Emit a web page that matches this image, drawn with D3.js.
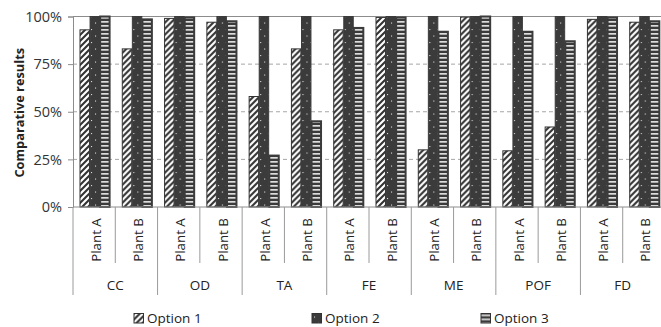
<!DOCTYPE html>
<html>
<head>
<meta charset="utf-8">
<script src="https://cdn.jsdelivr.net/npm/d3@7"></script>
<style>
  html, body { margin: 0; padding: 0; background: #fff; }
  svg { display: block; font-family: "Open Sans", "Liberation Sans", sans-serif; }
</style>
</head>
<body>
<svg id="chart" width="661" height="327"></svg>
<script>
// Categories and plants along the two-level x axis
const categories = ["CC", "OD", "TA", "FE", "ME", "POF", "FD"];
const plants = ["Plant A", "Plant B"];
const options = ["Option 1", "Option 2", "Option 3"];

// Comparative results (%) per category/plant, in order CC-A, CC-B, OD-A, ...
const option1 = [93, 83, 99, 97, 58, 83, 93, 99.5, 30, 99.7, 29.5, 42, 98.5, 97];
const option2 = [100, 100, 100, 100, 100, 100, 100, 100, 100, 100, 100, 100, 100, 100];
const option3 = [100, 98.5, 99.5, 97.5, 27, 45, 94, 99.5, 92, 100, 92, 87, 99.5, 97.5];

const yTicks = [0, 25, 50, 75, 100];

const svg = d3.select("#chart");
const plotLeft = 73, plotRight = 665, plotTop = 16.5, plotBottom = 207;

// Flatten into one row per category/plant
const rows = [];
categories.forEach((c, ci) => plants.forEach((p, pi) => {
  const i = ci * 2 + pi;
  rows.push({ key: c + "|" + p, cat: c, plant: p, values: [option1[i], option2[i], option3[i]] });
}));

const x = d3.scaleBand().domain(rows.map(r => r.key)).range([plotLeft, plotRight]);
const xSub = d3.scaleBand().domain(options).range([7, 36.6]).paddingInner(0.06);
const y = d3.scaleLinear().domain([0, 100]).range([plotBottom, plotTop]);

// Fill patterns
const defs = svg.append("defs");
const p1 = defs.append("pattern").attr("id", "pat1").attr("patternUnits", "userSpaceOnUse")
  .attr("width", 6).attr("height", 6);
p1.append("rect").attr("width", 6).attr("height", 6).attr("fill", "#fff");
p1.append("path").attr("d", "M-1,7 L7,-1 M-4,4 L4,-4 M2,10 L10,2")
  .attr("stroke", "#333").attr("stroke-width", 2.1);

const p2 = defs.append("pattern").attr("id", "pat2").attr("patternUnits", "userSpaceOnUse")
  .attr("width", 8).attr("height", 13);
p2.append("rect").attr("width", 8).attr("height", 13).attr("fill", "#3b3b3b");
p2.append("rect").attr("x", 2).attr("y", 3).attr("width", 1.1).attr("height", 1.1).attr("fill", "#d8d8d8");
p2.append("rect").attr("x", 6).attr("y", 9.5).attr("width", 1.1).attr("height", 1.1).attr("fill", "#d8d8d8");

const p3 = defs.append("pattern").attr("id", "pat3").attr("patternUnits", "userSpaceOnUse")
  .attr("width", 8).attr("height", 4);
p3.append("rect").attr("width", 8).attr("height", 4).attr("fill", "#3b3b3b");
p3.append("rect").attr("y", 1).attr("width", 8).attr("height", 1.7).attr("fill", "#dcdcdc");

const fills = ["url(#pat1)", "url(#pat2)", "url(#pat3)"];

// Gridlines
svg.append("g").selectAll("line").data(yTicks.filter(t => t > 0 && t < 100)).join("line")
  .attr("x1", plotLeft).attr("x2", 661).attr("y1", d => y(d)).attr("y2", d => y(d))
  .attr("stroke", "#a6a6a6").attr("stroke-width", 1).attr("stroke-dasharray", "4,3");
svg.append("line").attr("x1", plotLeft).attr("x2", 661).attr("y1", y(100)).attr("y2", y(100))
  .attr("stroke", "#8c8c8c").attr("stroke-width", 1);

// Y axis
const yAxis = svg.append("g").attr("transform", `translate(${plotLeft},0)`)
  .call(d3.axisLeft(y).tickValues(yTicks).tickFormat(d => d + "%").tickSize(5).tickPadding(6));
yAxis.select(".domain").attr("stroke", "#8c8c8c");
yAxis.selectAll(".tick line").attr("stroke", "#8c8c8c");
yAxis.selectAll(".tick text").attr("font-size", 14.5).attr("fill", "#333")
  .attr("font-family", "'Open Sans', sans-serif");

svg.append("text").attr("transform", `translate(24,${(plotTop + plotBottom) / 2 + 1}) rotate(-90)`)
  .attr("text-anchor", "middle").attr("font-size", 12.8).attr("font-weight", "bold")
  .attr("fill", "#222").text("Comparative results");

// Bars
const groups = svg.append("g").selectAll("g").data(rows).join("g")
  .attr("transform", d => `translate(${x(d.key)},0)`);
groups.selectAll("rect").data(d => d.values.map((v, i) => ({ v, i }))).join("rect")
  .attr("x", d => xSub(options[d.i]))
  .attr("width", xSub.bandwidth())
  .attr("y", d => y(d.v))
  .attr("height", d => y(0) - y(d.v))
  .attr("fill", d => fills[d.i])
  .attr("stroke", d => d.i === 0 ? "#333" : "#3b3b3b")
  .attr("stroke-width", d => d.i === 2 ? 2 : 1);

// X axis: baseline, separators and two levels of labels
svg.append("line").attr("x1", plotLeft).attr("x2", 661).attr("y1", plotBottom).attr("y2", plotBottom)
  .attr("stroke", "#8c8c8c");
const bounds = rows.map(r => x(r.key)).concat([plotRight]);
svg.append("g").selectAll("line").data(bounds).join("line")
  .attr("x1", d => d).attr("x2", d => d).attr("y1", plotBottom)
  .attr("y2", (d, i) => i % 2 === 0 ? 295 : 263)
  .attr("stroke", "#9a9a9a");

svg.append("g").selectAll("text").data(rows).join("text")
  .attr("transform", d => `translate(${x(d.key) + x.bandwidth() / 2 + 6.5},240) rotate(-90)`)
  .attr("text-anchor", "middle").attr("font-size", 13.3).attr("fill", "#222")
  .text(d => d.plant);

svg.append("g").selectAll("text").data(categories).join("text")
  .attr("x", c => x(c + "|Plant A") + x.bandwidth())
  .attr("y", 290).attr("text-anchor", "middle").attr("font-size", 13.5).attr("fill", "#222")
  .text(c => c);

// Legend
const legendX = [134, 312, 481];
const lg = svg.append("g").selectAll("g").data(options).join("g")
  .attr("transform", (d, i) => `translate(${legendX[i]},313.5)`);
lg.append("rect").attr("width", 9.5).attr("height", 9.5).attr("y", 0)
  .attr("fill", (d, i) => fills[i]).attr("stroke", "#333");
lg.append("text").attr("x", 13).attr("y", 9.5).attr("font-size", 13.5).attr("fill", "#222")
  .text(d => d);
</script>
</body>
</html>
